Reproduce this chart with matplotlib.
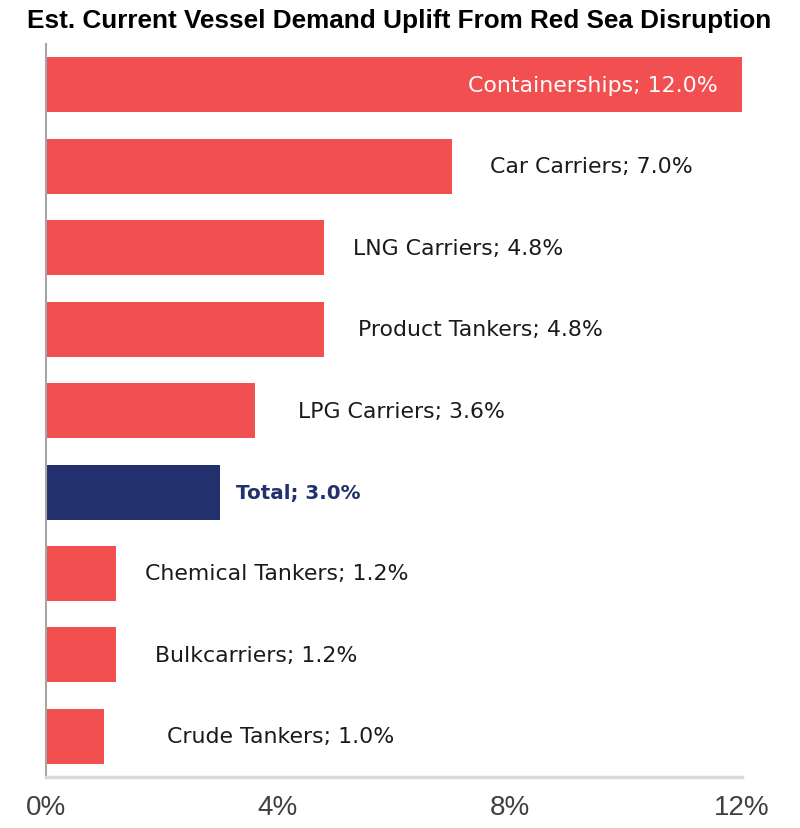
import matplotlib.pyplot as plt
from matplotlib import font_manager

vessels = ['Containerships', 'Car Carriers', 'LNG Carriers', 'Product Tankers',
           'LPG Carriers', 'Total', 'Chemical Tankers', 'Bulkcarriers', 'Crude Tankers']
uplift = [12.0, 7.0, 4.8, 4.8, 3.6, 3.0, 1.2, 1.2, 1.0]
xticks = [0, 4, 8, 12]

# where each label starts (in % units), Excel-style placement
label_x = [11.59, 7.65, 5.29, 5.38, 4.34, 3.28, 1.71, 1.88, 2.09]

red = '#F24F51'
navy = '#22306E'
txt = '#1a1a1a'

names = {f.name for f in font_manager.fontManager.ttflist}
narrow = 'Liberation Sans Narrow' if 'Liberation Sans Narrow' in names else 'Liberation Sans'

fig = plt.figure(figsize=(8, 8.29), dpi=100)
ax = fig.add_axes([0.0575, 0.0615, 0.87, 0.884])

colors = [navy if v == 'Total' else red for v in vessels]
ypos = list(range(len(vessels)))
ax.barh(ypos, uplift, height=0.675, color=colors)

for i, (name, val) in enumerate(zip(vessels, uplift)):
    s = '{}; {:.1f}%'.format(name, val)
    if i == 0:
        ax.text(label_x[i], i, s, ha='right', va='center', color='white',
                fontsize=15.8, family='DejaVu Sans')
    elif name == 'Total':
        ax.text(label_x[i], i, s, ha='left', va='center', color=navy,
                fontsize=14.3, fontweight='bold', family='DejaVu Sans')
    else:
        ax.text(label_x[i], i, s, ha='left', va='center', color=txt,
                fontsize=15.8, family='DejaVu Sans')

ax.set_xlim(0, 12)
ax.set_ylim(len(vessels) - 0.5, -0.5)
ax.set_xticks(xticks)
ax.set_xticklabels(['{}%'.format(t) for t in xticks], fontsize=20, family=narrow, color='#404040')
ax.set_yticks([])
ax.tick_params(axis='x', length=0, pad=12)

for s in ['top', 'right']:
    ax.spines[s].set_visible(False)
ax.spines['left'].set_color('#a6a6a6')
ax.spines['left'].set_linewidth(1.5)
ax.spines['bottom'].set_color('#d9d9d9')
ax.spines['bottom'].set_linewidth(2.5)

fig.text(0.499, 0.975, 'Est. Current Vessel Demand Uplift From Red Sea Disruption',
         ha='center', va='center', fontsize=18.8, fontweight='bold', family=narrow)

fig.savefig('out.png', dpi=100)
